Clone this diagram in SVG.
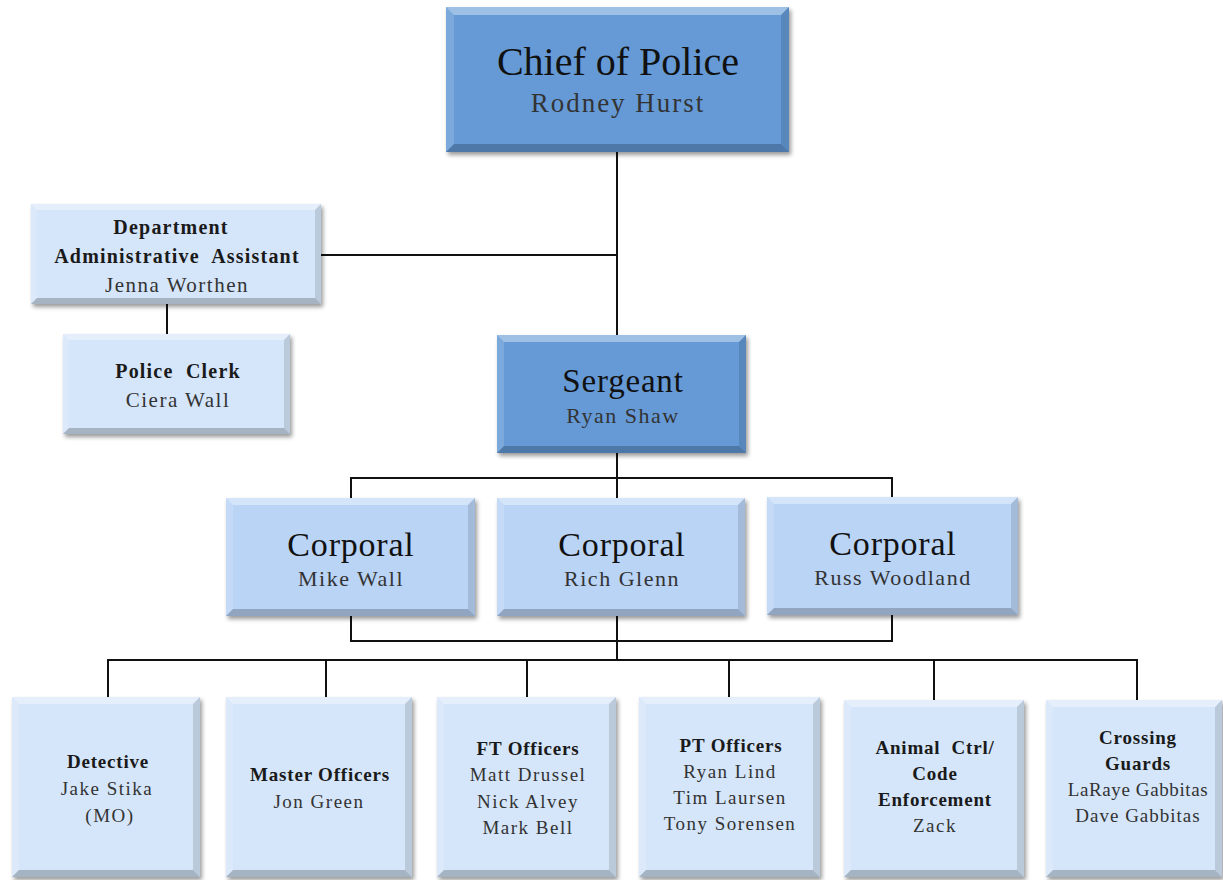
<svg xmlns="http://www.w3.org/2000/svg" width="1223" height="880" viewBox="0 0 1223 880">
  <defs>
    <filter id="shadow" x="-5%" y="-5%" width="115%" height="120%">
      <feDropShadow dx="2" dy="3" stdDeviation="2" flood-color="#000" flood-opacity="0.4"/>
    </filter>
    <style>
      .mid { fill: #659ad6; }
      .cpl { fill: #bad4f6; }
      .lite { fill: #d5e6fa; }
      .bt { fill: #ffffff; opacity: 0.38; }
      .bl { fill: #ffffff; opacity: 0.15; }
      .br { fill: #000000; opacity: 0.12; }
      .bb { fill: #000000; opacity: 0.22; }
      .link { fill: none; stroke: #111; stroke-width: 2; }
      text { font-family: "Liberation Serif", "DejaVu Serif", serif; text-anchor: middle; }
      .t { fill: #111; }
      .n { fill: #333; letter-spacing: 1.5px; }
      .b { font-weight: bold; fill: #1a1a1a; letter-spacing: 0.8px; }
    </style>
  </defs>
  <rect width="1223" height="880" fill="#ffffff"/>

  <!-- connectors -->
  <g id="connectors">
    <path class="link" d="M617 152 V335"/>
    <path class="link" d="M321 255 H617"/>
    <path class="link" d="M167 304 V334"/>
    <path class="link" d="M617 453 V498 M351 498 V478 H892 V497"/>
    <path class="link" d="M351 616 V641 H892 V615 M617 616 V660"/>
    <path class="link" d="M108 697 V660 H1137 V700 M326 660 V697 M527 660 V697 M729 660 V697 M934 660 V700"/>
  </g>

  <!-- Chief of Police -->
  <g id="chief" filter="url(#shadow)">
    <rect class="mid" x="446" y="7" width="343" height="145"/>
    <polygon class="bt" points="446,7 789,7 781,15 454,15"/>
    <polygon class="bl" points="446,7 454,15 454,144 446,152"/>
    <polygon class="br" points="789,7 789,152 781,144 781,15"/>
    <polygon class="bb" points="446,152 454,144 781,144 789,152"/>
  </g>
  <text class="t" x="618" y="75" font-size="40">Chief of Police</text>
  <text class="n" x="618" y="112" font-size="27" style="letter-spacing:2px">Rodney Hurst</text>

  <!-- Department Administrative Assistant -->
  <g id="admin" filter="url(#shadow)">
    <rect class="lite" x="31" y="204" width="290" height="100"/>
    <polygon class="bt" points="31,204 321,204 315,210 37,210"/>
    <polygon class="bl" points="31,204 37,210 37,298 31,304"/>
    <polygon class="br" points="321,204 321,304 315,298 315,210"/>
    <polygon class="bb" points="31,304 37,298 315,298 321,304"/>
  </g>
  <text class="b" x="171" y="234" font-size="20" style="letter-spacing:1.2px">Department</text>
  <text class="b" x="177" y="263" font-size="20" style="letter-spacing:1.2px" xml:space="preserve">Administrative  Assistant</text>
  <text class="n" x="177" y="292" font-size="21">Jenna Worthen</text>

  <!-- Police Clerk -->
  <g id="clerk" filter="url(#shadow)">
    <rect class="lite" x="63" y="334" width="227" height="100"/>
    <polygon class="bt" points="63,334 290,334 284,340 69,340"/>
    <polygon class="bl" points="63,334 69,340 69,428 63,434"/>
    <polygon class="br" points="290,334 290,434 284,428 284,340"/>
    <polygon class="bb" points="63,434 69,428 284,428 290,434"/>
  </g>
  <text class="b" x="178" y="378" font-size="20" style="letter-spacing:1.2px" xml:space="preserve">Police  Clerk</text>
  <text class="n" x="178" y="407" font-size="21">Ciera Wall</text>

  <!-- Sergeant -->
  <g id="sergeant" filter="url(#shadow)">
    <rect class="mid" x="497" y="335" width="249" height="118"/>
    <polygon class="bt" points="497,335 746,335 739,342 504,342"/>
    <polygon class="bl" points="497,335 504,342 504,446 497,453"/>
    <polygon class="br" points="746,335 746,453 739,446 739,342"/>
    <polygon class="bb" points="497,453 504,446 739,446 746,453"/>
  </g>
  <text class="t" x="623" y="392" font-size="33" style="letter-spacing:0.8px">Sergeant</text>
  <text class="n" x="623" y="423" font-size="22">Ryan Shaw</text>

  <!-- Corporal: Mike Wall -->
  <g id="corporal-wall" filter="url(#shadow)">
    <rect class="cpl" x="226" y="498" width="249" height="118"/>
    <polygon class="bt" points="226,498 475,498 468,505 233,505"/>
    <polygon class="bl" points="226,498 233,505 233,609 226,616"/>
    <polygon class="br" points="475,498 475,616 468,609 468,505"/>
    <polygon class="bb" points="226,616 233,609 468,609 475,616"/>
  </g>
  <text class="t" x="351" y="556" font-size="34" style="letter-spacing:0.8px">Corporal</text>
  <text class="n" x="351" y="586" font-size="22">Mike Wall</text>

  <!-- Corporal: Rich Glenn -->
  <g id="corporal-glenn" filter="url(#shadow)">
    <rect class="cpl" x="497" y="498" width="248" height="118"/>
    <polygon class="bt" points="497,498 745,498 738,505 504,505"/>
    <polygon class="bl" points="497,498 504,505 504,609 497,616"/>
    <polygon class="br" points="745,498 745,616 738,609 738,505"/>
    <polygon class="bb" points="497,616 504,609 738,609 745,616"/>
  </g>
  <text class="t" x="622" y="556" font-size="34" style="letter-spacing:0.8px">Corporal</text>
  <text class="n" x="622" y="586" font-size="22">Rich Glenn</text>

  <!-- Corporal: Russ Woodland -->
  <g id="corporal-woodland" filter="url(#shadow)">
    <rect class="cpl" x="767" y="497" width="251" height="118"/>
    <polygon class="bt" points="767,497 1018,497 1011,504 774,504"/>
    <polygon class="bl" points="767,497 774,504 774,608 767,615"/>
    <polygon class="br" points="1018,497 1018,615 1011,608 1011,504"/>
    <polygon class="bb" points="767,615 774,608 1011,608 1018,615"/>
  </g>
  <text class="t" x="893" y="555" font-size="34" style="letter-spacing:0.8px">Corporal</text>
  <text class="n" x="893" y="585" font-size="22">Russ Woodland</text>

  <!-- Detective -->
  <g id="detective" filter="url(#shadow)">
    <rect class="lite" x="12" y="697" width="188" height="180"/>
    <polygon class="bt" points="12,697 200,697 193,704 19,704"/>
    <polygon class="bl" points="12,697 19,704 19,870 12,877"/>
    <polygon class="br" points="200,697 200,877 193,870 193,704"/>
    <polygon class="bb" points="12,877 19,870 193,870 200,877"/>
  </g>
  <text class="b" x="108" y="768" font-size="19">Detective</text>
  <text class="n" x="107" y="795" font-size="19">Jake Stika</text>
  <text class="n" x="110" y="822" font-size="19">(MO)</text>

  <!-- Master Officers -->
  <g id="master-officers" filter="url(#shadow)">
    <rect class="lite" x="226" y="697" width="186" height="180"/>
    <polygon class="bt" points="226,697 412,697 405,704 233,704"/>
    <polygon class="bl" points="226,697 233,704 233,870 226,877"/>
    <polygon class="br" points="412,697 412,877 405,870 405,704"/>
    <polygon class="bb" points="226,877 233,870 405,870 412,877"/>
  </g>
  <text class="b" x="320" y="781" font-size="19">Master Officers</text>
  <text class="n" x="319" y="808" font-size="19">Jon Green</text>

  <!-- FT Officers -->
  <g id="ft-officers" filter="url(#shadow)">
    <rect class="lite" x="437" y="697" width="179" height="180"/>
    <polygon class="bt" points="437,697 616,697 609,704 444,704"/>
    <polygon class="bl" points="437,697 444,704 444,870 437,877"/>
    <polygon class="br" points="616,697 616,877 609,870 609,704"/>
    <polygon class="bb" points="437,877 444,870 609,870 616,877"/>
  </g>
  <text class="b" x="528" y="755" font-size="19">FT Officers</text>
  <text class="n" x="528" y="781" font-size="19">Matt Drussel</text>
  <text class="n" x="528" y="808" font-size="19">Nick Alvey</text>
  <text class="n" x="528" y="834" font-size="19">Mark Bell</text>

  <!-- PT Officers -->
  <g id="pt-officers" filter="url(#shadow)">
    <rect class="lite" x="639" y="697" width="181" height="180"/>
    <polygon class="bt" points="639,697 820,697 813,704 646,704"/>
    <polygon class="bl" points="639,697 646,704 646,870 639,877"/>
    <polygon class="br" points="820,697 820,877 813,870 813,704"/>
    <polygon class="bb" points="639,877 646,870 813,870 820,877"/>
  </g>
  <text class="b" x="731" y="752" font-size="19">PT Officers</text>
  <text class="n" x="730" y="778" font-size="19">Ryan Lind</text>
  <text class="n" x="730" y="804" font-size="19">Tim Laursen</text>
  <text class="n" x="730" y="830" font-size="19">Tony Sorensen</text>

  <!-- Animal Control / Code Enforcement -->
  <g id="animal-control" filter="url(#shadow)">
    <rect class="lite" x="844" y="700" width="180" height="177"/>
    <polygon class="bt" points="844,700 1024,700 1017,707 851,707"/>
    <polygon class="bl" points="844,700 851,707 851,870 844,877"/>
    <polygon class="br" points="1024,700 1024,877 1017,870 1017,707"/>
    <polygon class="bb" points="844,877 851,870 1017,870 1024,877"/>
  </g>
  <text class="b" x="935" y="754" font-size="19" xml:space="preserve">Animal  Ctrl/</text>
  <text class="b" x="935" y="780" font-size="19">Code</text>
  <text class="b" x="935" y="806" font-size="19">Enforcement</text>
  <text class="n" x="935" y="832" font-size="19">Zack</text>

  <!-- Crossing Guards -->
  <g id="crossing-guards" filter="url(#shadow)">
    <rect class="lite" x="1046" y="700" width="176" height="177"/>
    <polygon class="bt" points="1046,700 1222,700 1215,707 1053,707"/>
    <polygon class="bl" points="1046,700 1053,707 1053,870 1046,877"/>
    <polygon class="br" points="1222,700 1222,877 1215,870 1215,707"/>
    <polygon class="bb" points="1046,877 1053,870 1215,870 1222,877"/>
  </g>
  <text class="b" x="1138" y="744" font-size="19">Crossing</text>
  <text class="b" x="1138" y="770" font-size="19">Guards</text>
  <text class="n" x="1138" y="796" font-size="19" style="letter-spacing:0.6px">LaRaye Gabbitas</text>
  <text class="n" x="1138" y="822" font-size="19" style="letter-spacing:1px">Dave Gabbitas</text>
</svg>
